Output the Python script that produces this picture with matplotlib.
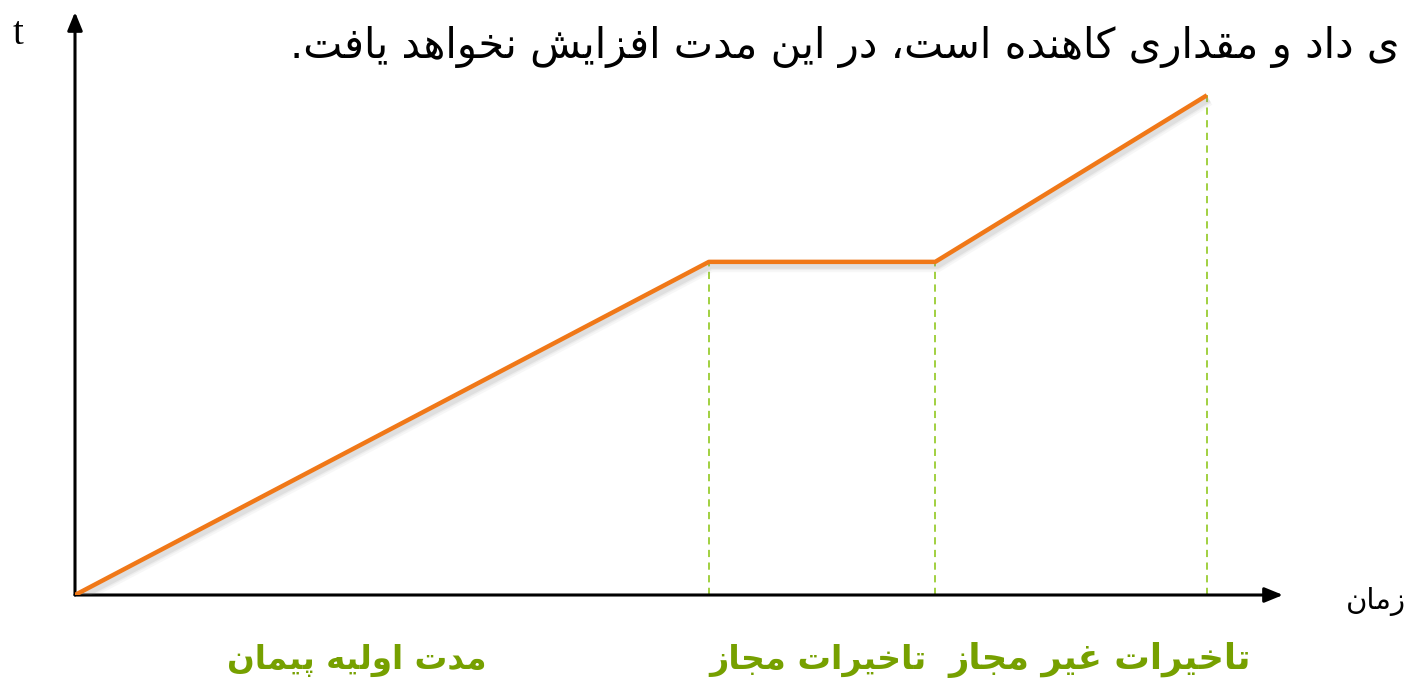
"""
نمودار پیشرفت زمانی: مدت اولیه پیمان، تاخیرات مجاز و غیر مجاز
"""

import matplotlib.pyplot as plt
import matplotlib.patheffects as pe

# داده ها
time_points = [0, 7, 9.5, 12.5]      # مرزهای دوره ها روی محور زمان
progress = [0, 4, 4, 6]              # مقدار t در هر مرز
phase_labels = ['مدت اولیه پیمان', 'تاخیرات مجاز', 'تاخیرات غیر مجاز']
title_text = 'ی داد و مقداری کاهنده است، در این مدت افزایش نخواهد یافت.'
x_label = 'زمان'
y_label = 't'

# شکل دادن حروف فارسی (matplotlib خودش اتصال حروف را انجام نمی دهد)
# (isolated, final, initial, medial)
FORMS = {
    'ا': ('\uFE8D', '\uFE8E'), 'د': ('\uFEA9', '\uFEAA'),
    'ر': ('\uFEAD', '\uFEAE'), 'ز': ('\uFEAF', '\uFEB0'),
    'و': ('\uFEED', '\uFEEE'),
    'ب': ('\uFE8F', '\uFE90', '\uFE91', '\uFE92'),
    'ت': ('\uFE95', '\uFE96', '\uFE97', '\uFE98'),
    'ج': ('\uFE9D', '\uFE9E', '\uFE9F', '\uFEA0'),
    'خ': ('\uFEA5', '\uFEA6', '\uFEA7', '\uFEA8'),
    'س': ('\uFEB1', '\uFEB2', '\uFEB3', '\uFEB4'),
    'ش': ('\uFEB5', '\uFEB6', '\uFEB7', '\uFEB8'),
    'غ': ('\uFECD', '\uFECE', '\uFECF', '\uFED0'),
    'ف': ('\uFED1', '\uFED2', '\uFED3', '\uFED4'),
    'ق': ('\uFED5', '\uFED6', '\uFED7', '\uFED8'),
    'ل': ('\uFEDD', '\uFEDE', '\uFEDF', '\uFEE0'),
    'م': ('\uFEE1', '\uFEE2', '\uFEE3', '\uFEE4'),
    'ن': ('\uFEE5', '\uFEE6', '\uFEE7', '\uFEE8'),
    'ه': ('\uFEE9', '\uFEEA', '\uFEEB', '\uFEEC'),
    'ی': ('\uFBFC', '\uFBFD', '\uFBFE', '\uFBFF'),
    'ک': ('\uFB8E', '\uFB8F', '\uFB90', '\uFB91'),
    'پ': ('\uFB56', '\uFB57', '\uFB58', '\uFB59'),
}


def shape(text):
    out = []
    for i, ch in enumerate(text):
        if ch not in FORMS:
            out.append(ch)
            continue
        prev = text[i - 1] if i > 0 else ''
        nxt = text[i + 1] if i + 1 < len(text) else ''
        joins_prev = prev in FORMS and len(FORMS[prev]) == 4
        joins_next = len(FORMS[ch]) == 4 and nxt in FORMS
        f = FORMS[ch]
        if joins_prev and joins_next:
            out.append(f[3])
        elif joins_prev:
            out.append(f[1])
        elif joins_next:
            out.append(f[2])
        else:
            out.append(f[0])
    return ''.join(out)[::-1]


fig = plt.figure(figsize=(14.13, 6.89), dpi=100)
ax = fig.add_axes([75 / 1413, 94 / 689, 1208 / 1413, 583 / 689])
ax.set_xlim(0, 13.34)
ax.set_ylim(0, 7.0)
ax.axis('off')

# محورها با فلش
ax.annotate('', xy=(1.0, 0), xytext=(0, 0), xycoords='axes fraction',
            arrowprops=dict(arrowstyle='-|>,head_length=1.1,head_width=0.45',
                            color='black', lw=2.2, shrinkA=0, shrinkB=0))
ax.annotate('', xy=(0, 1.0), xytext=(0, 0), xycoords='axes fraction',
            arrowprops=dict(arrowstyle='-|>,head_length=1.1,head_width=0.45',
                            color='black', lw=2.2, shrinkA=0, shrinkB=0))

# خطوط عمودی خط چین
for x, y in zip(time_points[1:], progress[1:]):
    ax.plot([x, x], [0, y], color='#9ACD32', lw=1.3, ls=(0, (4, 3)), zorder=2)

# خط پیشرفت با سایه نرم
shadow = [pe.SimpleLineShadow(offset=(1.5, -3), shadow_color='gray', alpha=a, linewidth=w)
          for a, w in [(0.06, 9), (0.08, 6), (0.12, 4)]]
ax.plot(time_points, progress, color='#F07818', lw=3.2, zorder=3,
        solid_capstyle='butt', path_effects=shadow + [pe.Normal()])

# متن ها
fig.text(290 / 1413, 1 - 47 / 689, shape(title_text), ha='left', va='center',
         fontsize=30, family='DejaVu Sans')
fig.text(18 / 1413, 1 - 35 / 689, y_label, ha='center', va='center',
         fontsize=28, family='Liberation Serif')
fig.text(1376 / 1413, 1 - 601 / 689, shape(x_label), ha='center', va='center',
         fontsize=21, family='DejaVu Sans')

label_x = [357, 818, 1100]
label_size = [23.5, 24, 25.5]
for lx, fs, lab in zip(label_x, label_size, phase_labels):
    fig.text(lx / 1413, 1 - 660 / 689, shape(lab), ha='center', va='center',
             fontsize=fs, fontweight='bold', color='#76A000', family='DejaVu Sans')

plt.savefig('out.png', dpi=100, facecolor='white')
